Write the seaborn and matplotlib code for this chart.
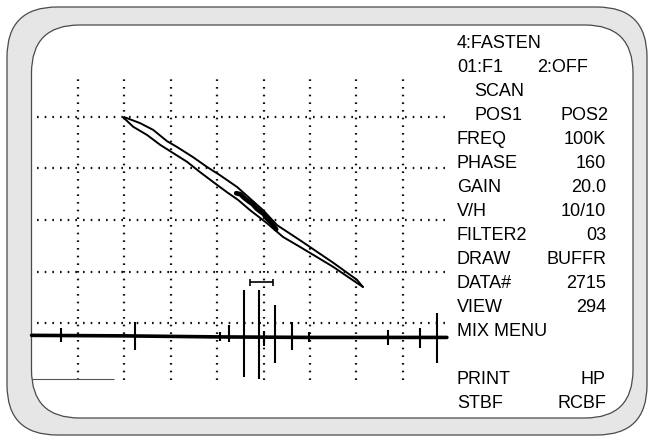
import numpy as np
import pandas as pd
import matplotlib
matplotlib.use("Agg")
import matplotlib.pyplot as plt
from matplotlib.patches import FancyBboxPatch
import seaborn as sns

sns.set_theme(style="white")
plt.rcParams['font.family'] = ['Liberation Sans', 'DejaVu Sans']
plt.rcParams['text.color'] = 'black'

# ---------------- data (in screen divisions) ----------------
# impedance-plane loop: two branches of the signal
upper_x = [1.99, 2.34, 2.62, 2.92, 3.13, 3.48, 3.78, 4.06, 4.43, 4.99, 5.29, 5.78, 6.50, 7.01, 7.14]
upper_y = [5.00, 4.88, 4.75, 4.53, 4.42, 4.22, 4.03, 3.87, 3.64, 3.19, 2.90, 2.61, 2.17, 1.84, 1.70]
lower_x = [1.99, 2.19, 2.49, 2.77, 3.05, 3.35, 3.63, 3.91, 4.21, 4.45, 4.71, 5.07, 5.42, 5.78, 6.15, 6.50, 6.86, 7.14]
lower_y = [4.98, 4.81, 4.65, 4.46, 4.30, 4.13, 3.93, 3.74, 3.54, 3.39, 3.19, 2.94, 2.67, 2.48, 2.28, 2.09, 1.87, 1.70]
# dense part of the loop (overlapping traces)
blob_x = [4.41, 4.50, 4.58, 4.68, 4.76, 4.85, 4.92, 5.00, 5.05, 5.15, 5.27]
blob_y = [3.52, 3.50, 3.43, 3.36, 3.31, 3.22, 3.17, 3.12, 3.05, 2.96, 2.82]

# strip-chart trace: baseline and spikes
base_x = [0.00, 2.00, 4.00, 6.00, 8.95]
base_y = [0.76, 0.75, 0.73, 0.72, 0.72]
spike_x = [0.64, 2.23, 4.05, 4.25, 4.57, 4.91, 5.00, 5.25, 5.62, 5.98, 7.68, 8.37, 8.74]
spike_top = [0.90, 1.02, 0.82, 0.96, 1.64, 1.64, 0.85, 1.35, 1.01, 0.83, 0.86, 0.90, 1.19]
spike_bot = [0.63, 0.48, 0.66, 0.63, -0.05, -0.08, 0.55, 0.22, 0.48, 0.63, 0.57, 0.52, 0.22]

# grid
vgrid_x = [1, 2, 3, 4, 5, 6, 7, 8]
hgrid_y = [1, 2, 3, 4, 5]

# menu text
menu_left = ["4:FASTEN", "01:F1", "SCAN", "POS1", "FREQ", "PHASE", "GAIN", "V/H",
             "FILTER2", "DRAW", "DATA#", "VIEW", "MIX MENU", "", "PRINT", "STBF"]
menu_right = ["", "", "", "", "100K", "160", "20.0", "10/10",
              "03", "BUFFR", "2715", "294", "", "", "HP", "RCBF"]

# ---------------- figure ----------------
W, H = 649, 436
fig = plt.figure(figsize=(W / 100, H / 100), dpi=100)
fig.patch.set_facecolor("white")

asp = W / H
outer = FancyBboxPatch((7 / W, 1 - 435 / H), 640 / W, 428 / H,
                       boxstyle="round,pad=0,rounding_size=%f" % (50 / W),
                       mutation_aspect=asp, transform=fig.transFigure,
                       facecolor="#e6e6e6", edgecolor="#4a4a4a", lw=0.9, zorder=-2)
inner = FancyBboxPatch((31.5 / W, 1 - 418 / H), 601.5 / W, 393 / H,
                       boxstyle="round,pad=0,rounding_size=%f" % (48 / W),
                       mutation_aspect=asp, transform=fig.transFigure,
                       facecolor="white", edgecolor="#4a4a4a", lw=0.9, zorder=-1)
fig.patches.extend([outer, inner])

ax = fig.add_axes([0, 0, 1, 1])
ax.set_xlim(-31.6 / 46.4, (W - 31.6) / 46.4)
ax.set_ylim((374.5 - H) / 51.5, 374.5 / 51.5)
ax.axis("off")

dot = (0, (0.75, 2.7))
ax.vlines(vgrid_x, -0.1, 5.78, colors="#111111", linestyles=[dot], lw=1.6)
ax.hlines(hgrid_y, 0.12, 8.91, colors="#111111", linestyles=[dot], lw=1.6)
ax.hlines([-0.093], 0.0, 1.77, colors="#555555", lw=0.8)

sns.lineplot(x=upper_x, y=upper_y, sort=False, estimator=None, color="black", lw=1.4, ax=ax)
sns.lineplot(x=lower_x, y=lower_y, sort=False, estimator=None, color="black", lw=1.4, ax=ax)
sns.lineplot(x=blob_x, y=blob_y, sort=False, estimator=None, color="black", lw=3.4, ax=ax)

sns.lineplot(x=base_x, y=base_y, sort=False, estimator=None, color="black", lw=2.6, ax=ax)
ax.vlines(spike_x, spike_bot, spike_top, colors="black", lw=1.5)

# bracket marker
ax.hlines([1.80], 4.71, 5.20, colors="black", lw=1.2)
ax.vlines([4.71, 5.20], 1.71, 1.86, colors="black", lw=1.2)

# menu text
fs = 13
for i, (l, r) in enumerate(zip(menu_left, menu_right)):
    cy = 41.7 + 24 * i
    yb = 1 - (cy + 6.5) / H
    if l:
        xl = 457
        if l in ("SCAN", "POS1"):
            xl = 474
        fig.text(xl / W, yb, l, fontsize=fs, color="black", ha="left", va="baseline")
    if r:
        fig.text(606 / W, yb, r, fontsize=fs, color="black", ha="right", va="baseline")
fig.text(537 / W, 1 - (65.7 + 6.5) / H, "2:OFF", fontsize=fs, color="black", ha="left", va="baseline")
fig.text(608 / W, 1 - (113.7 + 6.5) / H, "POS2", fontsize=fs, color="black", ha="right", va="baseline")

fig.savefig("out.png", dpi=100)
